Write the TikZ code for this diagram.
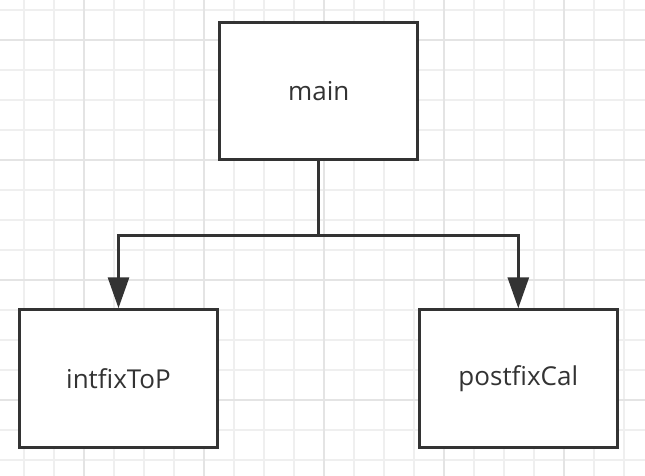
\documentclass[tikz,border=0pt]{standalone}
\usepackage{fontspec}
\setmainfont{Open Sans}
\usetikzlibrary{arrows.meta}
\definecolor{ink}{HTML}{333333}
\definecolor{gridminor}{HTML}{EFEFEF}
\definecolor{gridmajor}{HTML}{E4E4E4}
\tikzset{
  blockbox/.style={draw=ink, line width=3pt, fill=white, minimum width=198pt, minimum height=137.5pt, inner sep=0pt, text=ink, font=\fontsize{26}{30}\selectfont},
  conn/.style={draw=ink, line width=3pt},
  connarrow/.style={conn, -{Triangle[length=31pt,width=21pt]}},
}
\begin{document}
\begin{tikzpicture}[x=1pt,y=-1pt]
\useasboundingbox (0,0) rectangle (645,476);
\fill[white] (0,0) rectangle (645,476);
% minor grid
\foreach \gx in {-6,24,...,644} \draw[gridminor, line width=1.4pt] (\gx,0) -- (\gx,476);
\foreach \gy in {10,40,...,476} \draw[gridminor, line width=1.4pt] (0,\gy) -- (645,\gy);
% major grid
\foreach \gx in {84,204,324,444,564} \draw[gridmajor, line width=1.8pt] (\gx,0) -- (\gx,476);
\foreach \gy in {40,160,280,400} \draw[gridmajor, line width=1.8pt] (0,\gy) -- (645,\gy);

\node[blockbox] (main) at (318.8,91) {main};
\node[blockbox] (itp) at (118.5,378.5) {intfixToP};
\node[blockbox] (pfc) at (518.3,378.5) {postfixCal};

\coordinate (split) at (318.8,235);
\draw[conn] (main.south) -- (split);
\draw[connarrow] (split) -| (itp.north);
\draw[connarrow] (split) -| (pfc.north);
\end{tikzpicture}
\end{document}
